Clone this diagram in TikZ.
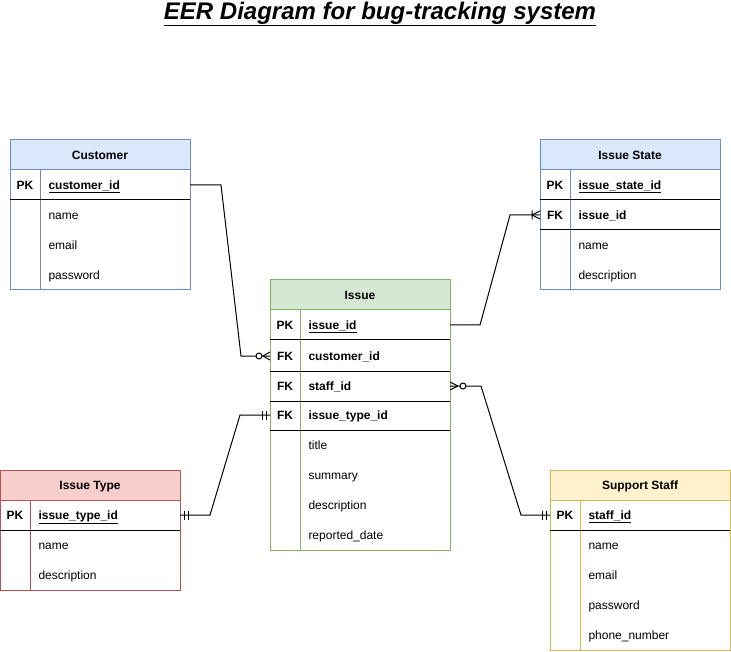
\documentclass[tikz,border=0pt]{standalone}
\usepackage{fontspec}
\setmainfont{Liberation Sans}
\usetikzlibrary{calc}
\definecolor{bluef}{HTML}{DAE8FC}\definecolor{blues}{HTML}{6C8EBF}
\definecolor{greenf}{HTML}{D5E8D4}\definecolor{greens}{HTML}{82B366}
\definecolor{redf}{HTML}{F8CECC}\definecolor{reds}{HTML}{B85450}
\definecolor{yellowf}{HTML}{FFF2CC}\definecolor{yellows}{HTML}{D6B656}
\newcommand\twelve{\fontsize{12}{14}\selectfont}
\tikzset{
  tbox/.style={inner sep=0pt, outer sep=0pt, anchor=north west, minimum width=180pt},
  rowtxt/.style={inner sep=0pt, text height=10pt, text depth=1pt},
  conn/.style={draw=black, line width=1pt},
  mk/.style={draw=black, line width=1pt},
}
\newcommand\ertbl[7]{%
  \node[tbox, draw=#6, fill=white, minimum height=#4pt] (#1) at (#2,#3) {};
  \node[tbox, draw=#6, fill=#5, minimum height=30pt, text height=10pt, text depth=1pt, font=\twelve\bfseries] (#1-h) at (#2,#3) {#7};
  \draw[#6] (#2+30,#3+30) -- (#2+30,#3+#4);
}
\newcommand\errow[5]{%
  \node[rowtxt, font=\twelve\bfseries] (#1-k) at (#2+15,#3+15) {#4};
  \node[rowtxt, anchor=west] (#1) at (#2+38,#3+15) {#5};
  \coordinate (#1-e) at (#2+180,#3+15);
  \coordinate (#1-w) at (#2,#3+15);
}
\newcommand\ersep[2]{\draw[black] (#1,#2) -- (#1+180,#2);}
\begin{document}
\begin{tikzpicture}[x=1pt,y=-1pt,font=\twelve,line width=1pt]
\useasboundingbox (0,0) rectangle (731,652);
\node[inner sep=0pt, font=\fontsize{24}{28}\selectfont\bfseries\itshape] (title) at (380,14) {\underline{EER Diagram for bug-tracking system}};

% Customer
\ertbl{cust}{10}{140}{150}{bluef}{blues}{Customer}
\errow{cust-pk}{10}{170}{PK}{\textbf{\underline{customer\_id}}}
\ersep{10}{200}
\errow{cust-r1}{10}{200}{}{name}
\errow{cust-r2}{10}{230}{}{email}
\errow{cust-r3}{10}{260}{}{password}

% Issue State
\ertbl{ist}{540}{140}{150}{bluef}{blues}{Issue State}
\errow{ist-pk}{540}{170}{PK}{\textbf{\underline{issue\_state\_id}}}
\ersep{540}{200}
\errow{ist-fk}{540}{200}{FK}{\textbf{issue\_id}}
\ersep{540}{230}
\errow{ist-r1}{540}{230}{}{name}
\errow{ist-r2}{540}{260}{}{description}

% Issue
\ertbl{iss}{270}{280}{270}{greenf}{greens}{Issue}
\errow{iss-pk}{270}{310}{PK}{\textbf{\underline{issue\_id}}}
\ersep{270}{340}
\errow{iss-cust}{270}{341}{FK}{\textbf{customer\_id}}
\ersep{270}{371}
\errow{iss-staff}{270}{371}{FK}{\textbf{staff\_id}}
\ersep{270}{401}
\errow{iss-ity}{270}{400}{FK}{\textbf{issue\_type\_id}}
\ersep{270}{430}
\errow{iss-r1}{270}{430}{}{title}
\errow{iss-r2}{270}{460}{}{summary}
\errow{iss-r3}{270}{490}{}{description}
\errow{iss-r4}{270}{520}{}{reported\_date}

% Issue Type
\ertbl{ity}{0}{470}{120}{redf}{reds}{Issue Type}
\errow{ity-pk}{0}{500}{PK}{\textbf{\underline{issue\_type\_id}}}
\ersep{0}{530}
\errow{ity-r1}{0}{530}{}{name}
\errow{ity-r2}{0}{560}{}{description}

% Support Staff
\ertbl{ss}{550}{470}{180}{yellowf}{yellows}{Support Staff}
\errow{ss-pk}{550}{500}{PK}{\textbf{\underline{staff\_id}}}
\ersep{550}{530}
\errow{ss-r1}{550}{530}{}{name}
\errow{ss-r2}{550}{560}{}{email}
\errow{ss-r3}{550}{590}{}{password}
\errow{ss-r4}{550}{620}{}{phone\_number}

% Connectors
\draw[conn] (cust-pk-e) -- ++(31,0) -- ($(iss-cust-w)+(-29,0)$) -- (iss-cust-w);
\draw[conn] (iss-pk-e) -- ++(30,0) -- ($(ist-fk-w)+(-30,0)$) -- (ist-fk-w);
\draw[conn] (ity-pk-e) -- ++(30,0) -- ($(iss-ity-w)+(-30,0)$) -- (iss-ity-w);
\draw[conn] (iss-staff-e) -- ++(31,0) -- ($(ss-pk-w)+(-29,0)$) -- (ss-pk-w);

% Markers: customer -> issue (zero to many at issue)
\draw[mk] ($(iss-cust-w)+(-7,0)$) -- ($(iss-cust-w)+(0,-4)$)
          ($(iss-cust-w)+(-7,0)$) -- ($(iss-cust-w)+(0,4)$);
\draw[mk, fill=white] ($(iss-cust-w)+(-11,0)$) circle (3pt);
% issue -> issue state (one to many at issue state)
\draw[mk] ($(ist-fk-w)+(-8,0)$) -- ($(ist-fk-w)+(0,-4)$)
          ($(ist-fk-w)+(-8,0)$) -- ($(ist-fk-w)+(0,4)$)
          ($(ist-fk-w)+(-8,-4.5)$) -- ($(ist-fk-w)+(-8,4.5)$);
% issue type <-> issue (mandatory one both)
\draw[mk] ($(ity-pk-e)+(4,-4.5)$) -- ($(ity-pk-e)+(4,4.5)$)
          ($(ity-pk-e)+(8,-4.5)$) -- ($(ity-pk-e)+(8,4.5)$);
\draw[mk] ($(iss-ity-w)+(-7.5,-4.5)$) -- ($(iss-ity-w)+(-7.5,4.5)$)
          ($(iss-ity-w)+(-4,-4.5)$) -- ($(iss-ity-w)+(-4,4.5)$);
% issue staff -> support staff
\draw[mk] ($(iss-staff-e)+(8,0)$) -- ($(iss-staff-e)+(0,-4)$)
          ($(iss-staff-e)+(8,0)$) -- ($(iss-staff-e)+(0,4)$);
\draw[mk, fill=white] ($(iss-staff-e)+(13,0)$) circle (3pt);
\draw[mk] ($(ss-pk-w)+(-8,-4.5)$) -- ($(ss-pk-w)+(-8,4.5)$)
          ($(ss-pk-w)+(-4,-4.5)$) -- ($(ss-pk-w)+(-4,4.5)$);
\end{tikzpicture}
\end{document}
